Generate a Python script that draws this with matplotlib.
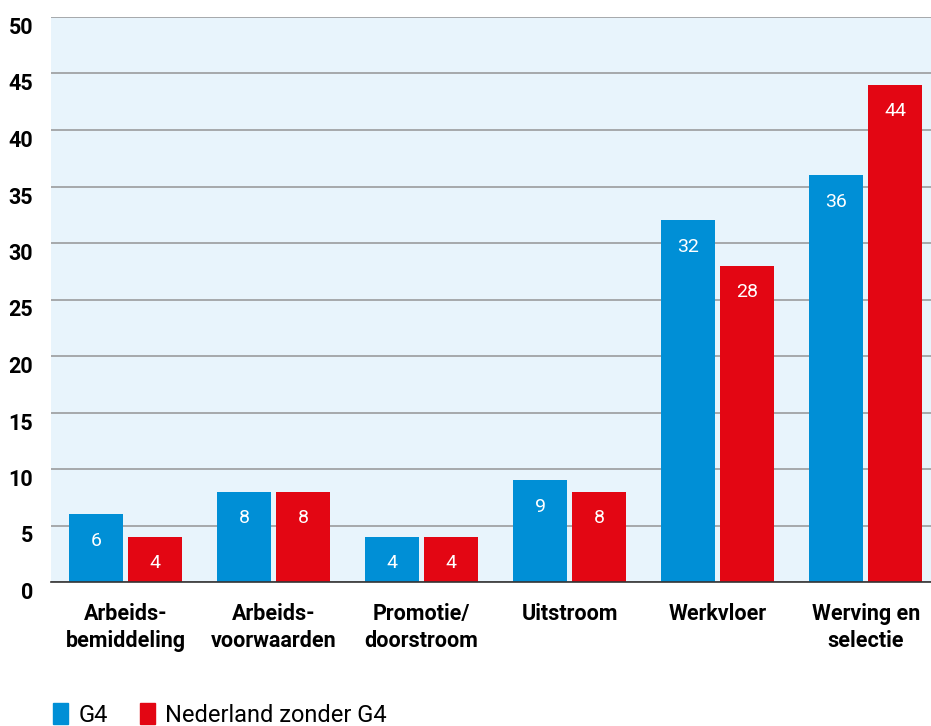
import numpy as np
import matplotlib.pyplot as plt
from matplotlib.patches import Patch

# data
categories = ["Arbeids-\nbemiddeling", "Arbeids-\nvoorwaarden", "Promotie/\ndoorstroom",
              "Uitstroom", "Werkvloer", "Werving en\nselectie"]
g4 = [6, 8, 4, 9, 32, 36]
nl_zonder_g4 = [4, 8, 4, 8, 28, 44]
series_names = ["G4", "Nederland zonder G4"]

blue = "#008fd6"
red = "#e30613"
bg = "#e8f4fc"

plt.rcParams["font.family"] = ["Roboto", "DejaVu Sans"]

fig = plt.figure(figsize=(9.31, 7.26), dpi=100)
ax = fig.add_axes([51 / 931, 144 / 726, 880 / 931, 565 / 726])
ax.set_facecolor(bg)

x = np.arange(len(categories))
w = 54 / 148
off = 29.5 / 148
b1 = ax.bar(x - off, g4, w, color=blue, zorder=3)
b2 = ax.bar(x + off, nl_zonder_g4, w, color=red, zorder=3)

for bars, vals in ((b1, g4), (b2, nl_zonder_g4)):
    for b, v in zip(bars, vals):
        ax.annotate(str(v), (b.get_x() + b.get_width() / 2, v),
                    xytext=(0, -19), textcoords="offset points",
                    ha="center", va="center", color="white", fontsize=14, zorder=4)

ax.set_ylim(0, 50)
ax.set_xlim(-0.503, 5.44)
ax.set_yticks(range(0, 51, 5))
ax.yaxis.grid(True, color="#9a9c9e", linewidth=1.2, zorder=1)
ax.set_axisbelow(True)
for s in ["top", "right", "left"]:
    ax.spines[s].set_visible(False)
ax.spines["bottom"].set_color("#333333")
ax.spines["bottom"].set_linewidth(1.2)
ax.spines["bottom"].set_zorder(5)

ax.set_xticks(x)
ax.set_xticklabels(categories, fontsize=15.5, fontweight="bold", linespacing=1.3)
ax.tick_params(axis="x", length=0, pad=15)
ax.tick_params(axis="y", length=0, pad=13, labelsize=15.5)
for lbl in ax.get_yticklabels():
    lbl.set_fontweight("bold")
    lbl.set_va("top")

handles = [Patch(color=blue), Patch(color=red)]
fig.legend(handles, series_names, loc="center left", bbox_to_anchor=(44 / 931, 11 / 726),
           ncol=2, frameon=False, fontsize=17, handlelength=0.62, handleheight=1.0,
           handletextpad=0.45, columnspacing=1.35, borderaxespad=0)

fig.savefig("out.png", dpi=100)
